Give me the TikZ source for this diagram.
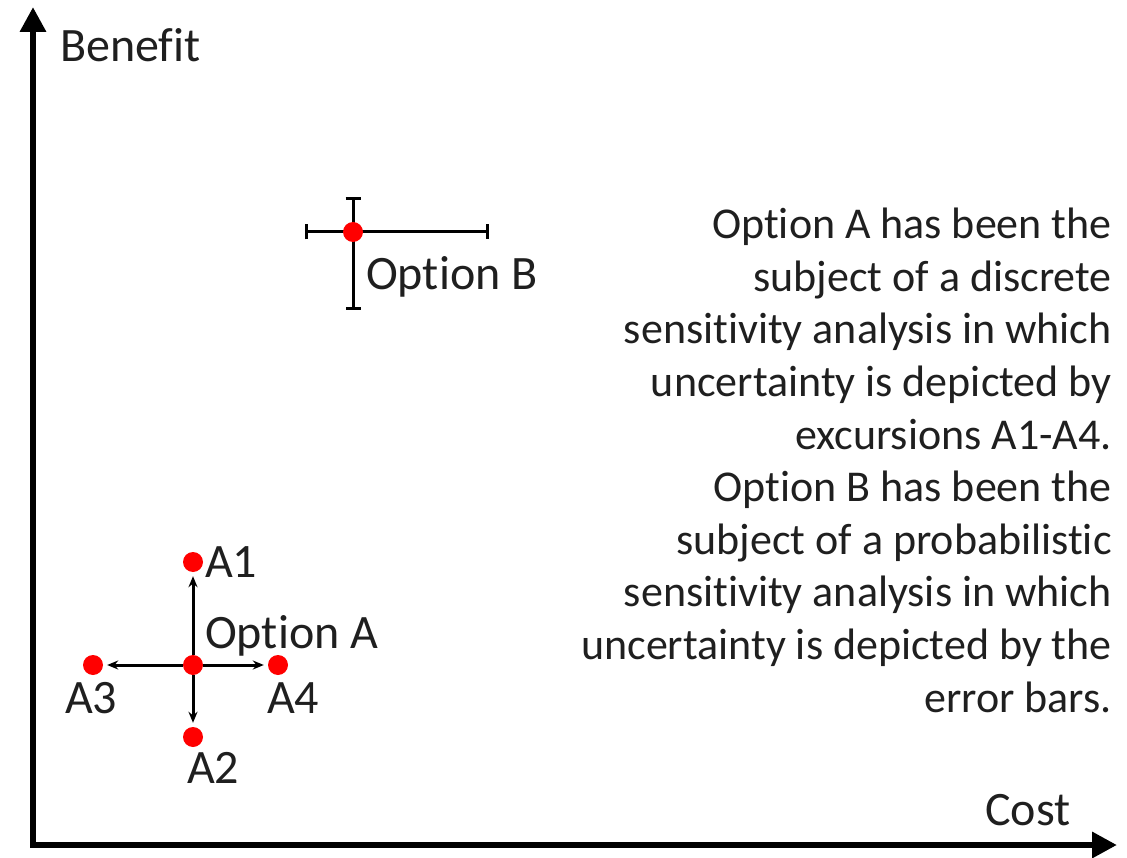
\documentclass[tikz,border=0pt]{standalone}
\usepackage{fontspec}
\setmainfont{Carlito}[RawFeature={-liga;-clig;-rlig;-calt;-dlig}]
\usetikzlibrary{arrows.meta}
\begin{document}
\begin{tikzpicture}[x=1pt,y=-1pt,
  axis/.style={line width=6.5pt, line join=miter,
    {Triangle[length=25pt,width=25pt]}-{Triangle[length=25pt,width=25pt]}},
  dot/.style={circle, fill=red, draw=none, inner sep=0pt, minimum size=20pt},
  lbl/.style={font=\fontsize{48}{57.6}\selectfont, inner sep=0pt, text=black!88},
  errbar/.style={line width=3pt, {Bar[width=15pt]}-{Bar[width=15pt]}},
  excursion/.style={line width=3pt, shorten >=4pt, -{Stealth[length=11pt,width=9pt]}},
  note/.style={font=\fontsize{44}{52.6}\selectfont, align=right, inner sep=0pt, text=black!88}
]
\useasboundingbox (0,0) rectangle (1127,858);

% axes
\coordinate (ytip) at (33,7);
\coordinate (origin) at (33,845);
\coordinate (xtip) at (1117,845);
\draw[axis] (ytip) -- (origin) -- (xtip);
\node[lbl, anchor=base west] (benefit) at (60,62) {Benefit};
\node[lbl, anchor=base west] (cost) at (985,825) {Cost};

% option B with error bars
\coordinate (bl) at (305,232);
\coordinate (br) at (489,232);
\coordinate (bt) at (353,197);
\coordinate (bb) at (353,310);
\draw[errbar] (bl) -- (br);
\draw[errbar] (bt) -- (bb);
\node[dot] (optB) at (353,232) {};
\node[lbl, anchor=base west] (optBlbl) at (366,290) {Option B};

% option A with excursions
\node[dot] (optA) at (193,665) {};
\node[dot] (a1) at (193,562) {};
\node[dot] (a2) at (193,737) {};
\node[dot] (a3) at (93,665) {};
\node[dot] (a4) at (278,665) {};
\draw[excursion] (optA) -- (a1);
\draw[excursion] (optA) -- (a2);
\draw[excursion] (optA) -- (a3);
\draw[excursion] (optA) -- (a4);
\node[lbl, anchor=base west] (optAlbl) at (205,648) {Option A};
\node[lbl, anchor=base west] (a1lbl) at (205,577) {A1};
\node[lbl, anchor=base west] (a2lbl) at (187,783) {A2};
\node[lbl, anchor=base west] (a3lbl) at (65,713) {A3};
\node[lbl, anchor=base west] (a4lbl) at (267,713) {A4};

% explanatory note (base anchor sits on the last line)
\node[note, anchor=base east] (note) at (1112,712) {Option A has been the\\
subject of a discrete\\
sensitivity analysis in which\\
uncertainty is depicted by\\
excursions A1-A4.\\
Option B has been the\\
subject of a probabilistic\\
sensitivity analysis in which\\
uncertainty is depicted by the\\
error bars.};
\end{tikzpicture}
\end{document}
